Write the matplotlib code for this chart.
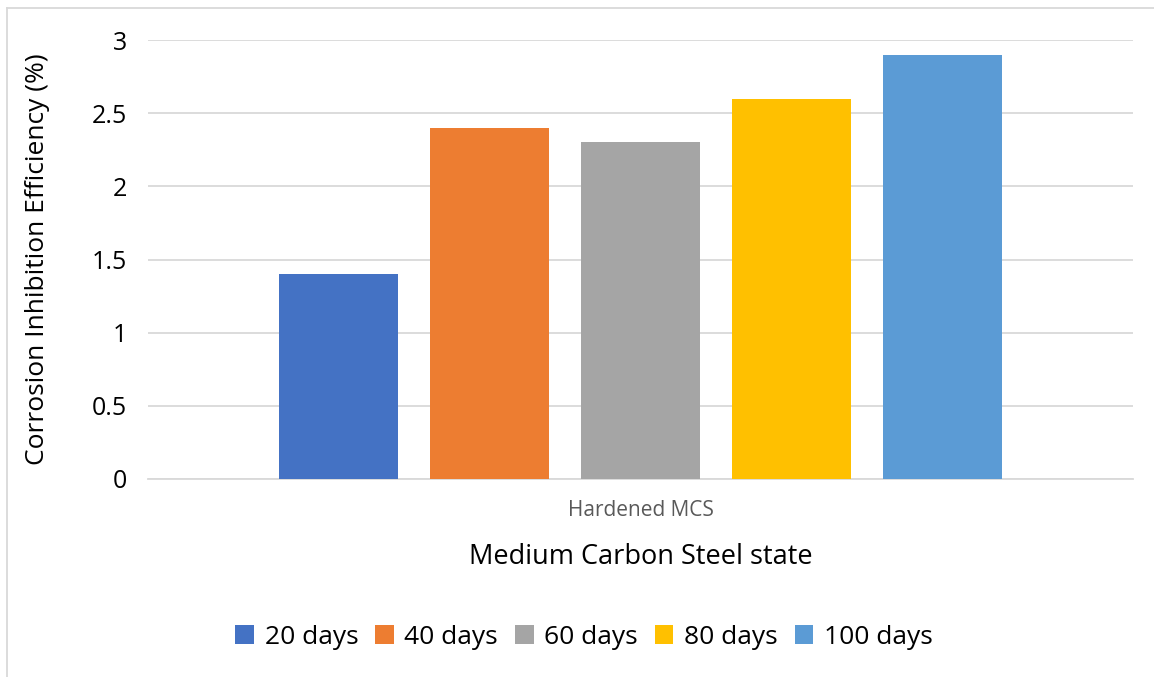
import matplotlib
matplotlib.use("Agg")
from matplotlib import pyplot as plt
from matplotlib.lines import Line2D
import numpy as np

plt.rcParams['font.family'] = ['Open Sans', 'DejaVu Sans']

series = ['20 days', '40 days', '60 days', '80 days', '100 days']
values = [1.4, 2.4, 2.3, 2.6, 2.9]
colors = ['#4472C4', '#ED7D31', '#A5A5A5', '#FFC000', '#5B9BD5']
yticks = [0, 0.5, 1, 1.5, 2, 2.5, 3]
ytick_labels = ['0', '0.5', '1', '1.5', '2', '2.5', '3']
category = 'Hardened MCS'

W, H = 1154, 677
fig = plt.figure(figsize=(W / 100, H / 100), dpi=100)
ax = fig.add_axes([148 / W, 1 - 479 / H, (1133 - 148) / W, (479 - 40) / H])

x = np.arange(len(series))
bars = ax.bar(x, values, width=0.79, color=colors, zorder=3)

ax.set_ylim(0, 3)
ax.set_xlim(2 - 3.26, 2 + 3.26)
ax.set_yticks(yticks)
ax.set_yticklabels(ytick_labels, fontsize=18)
ax.tick_params(axis='y', length=0, pad=15)
ax.set_xticks([2])
ax.set_xticklabels([category], fontsize=15, color='#595959')
ax.tick_params(axis='x', length=0, pad=15)
ax.grid(axis='y', color='#d9d9d9', linewidth=1.3, zorder=0)
for s in ['top', 'right', 'left']:
    ax.spines[s].set_visible(False)
ax.spines['bottom'].set_color('#d9d9d9')
ax.spines['bottom'].set_linewidth(1.3)

ax.set_ylabel('Corrosion Inhibition Efficiency (%)', fontsize=19, labelpad=30)
ax.set_xlabel('Medium Carbon Steel state', fontsize=19.5, labelpad=16)

fig.legend(bars, series, loc='center', bbox_to_anchor=(584 / W, 1 - 637 / H),
           ncol=5, frameon=False, fontsize=19, handlelength=0.7, handleheight=0.7,
           handletextpad=0.4, columnspacing=0.65)

# partial frame like the source image
fig.add_artist(Line2D([7 / W, 1], [1 - 8 / H, 1 - 8 / H], color='#d9d9d9', lw=1.3))
fig.add_artist(Line2D([7 / W, 7 / W], [0, 1 - 8 / H], color='#d9d9d9', lw=1.3))

fig.savefig('out.png', dpi=100)
